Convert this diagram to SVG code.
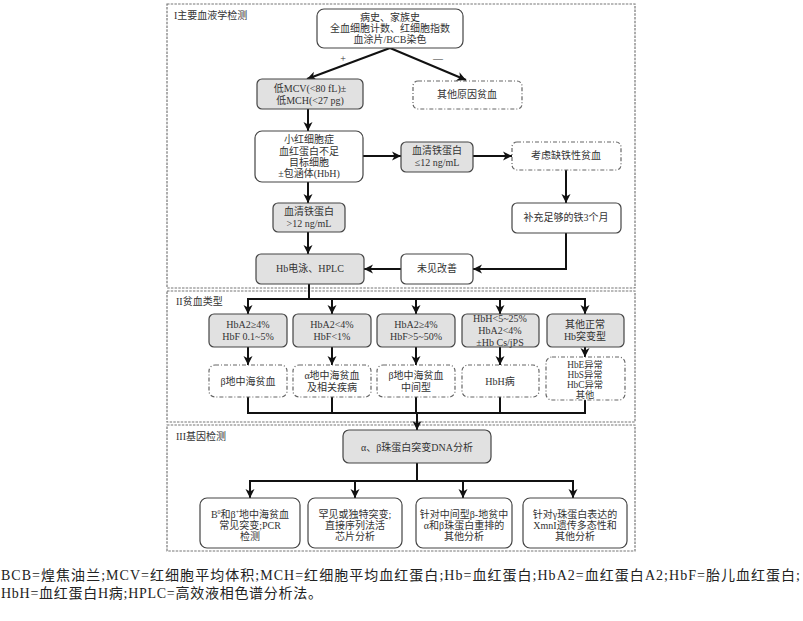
<svg xmlns="http://www.w3.org/2000/svg" width="803" height="621" viewBox="0 0 803 621">
<defs>
<marker id="ah" markerUnits="userSpaceOnUse" markerWidth="10" markerHeight="10" refX="9" refY="5" orient="auto">
<path d="M0,0.5 L9,5 L0,9.5 L2.5,5 z" fill="#111"/>
</marker>
<style>
.panel{fill:none;stroke:#777;stroke-width:1.2;stroke-dasharray:2.5 1.2}
.box{fill:#fff;stroke:#444;stroke-width:1.2}
.gray{fill:#e1e1e1;stroke:#444;stroke-width:1.2}
.dd{fill:#fff;stroke:#666;stroke-width:1.2;stroke-dasharray:4 2 1 2}
text{font-family:"Liberation Serif","Noto Sans CJK SC",serif;font-size:10px;fill:#333;text-anchor:middle}
.lab{text-anchor:start;font-size:10px}
.cap{text-anchor:start;font-size:14px;fill:#222}
.sm{font-size:9.3px}
.c{fill:none;stroke:#111;stroke-width:2}
.a{fill:none;stroke:#111;stroke-width:2;marker-end:url(#ah)}
</style>
</defs>
<rect width="803" height="621" fill="#fff"/>
<g id="panels">
<rect class="panel" x="167" y="4" width="468" height="284"/>
<rect class="panel" x="167" y="291" width="468" height="131"/>
<rect class="panel" x="167" y="425" width="468" height="126"/>
<text class="lab" x="174" y="19">I主要血液学检测</text>
<text class="lab" x="176" y="305">II贫血类型</text>
<text class="lab" x="176" y="440">III基因检测</text>
</g>
<g id="connectors">
<line class="a" x1="390" y1="48" x2="307" y2="79"/>
<line class="a" x1="390" y1="48" x2="466" y2="80"/>
<text x="343" y="62">+</text>
<text x="438" y="62">—</text>
<line class="a" x1="308" y1="109" x2="308" y2="131"/>
<line class="a" x1="363" y1="156" x2="401" y2="156"/>
<line class="a" x1="473" y1="156" x2="512" y2="156"/>
<line class="a" x1="566" y1="170" x2="566" y2="203"/>
<line class="a" x1="308" y1="182" x2="308" y2="203"/>
<line class="a" x1="308" y1="232" x2="308" y2="254"/>
<polyline class="a" points="566,233 566,269 473,269"/>
<line class="a" x1="401" y1="269" x2="364" y2="269"/>
<line class="c" x1="309" y1="284" x2="309" y2="299"/>
<line class="c" x1="247" y1="299" x2="585" y2="299"/>
<line class="a" x1="248" y1="298" x2="248" y2="314"/>
<line class="a" x1="332" y1="299" x2="332" y2="314"/>
<line class="a" x1="416" y1="299" x2="416" y2="314"/>
<line class="a" x1="500" y1="299" x2="500" y2="314"/>
<line class="a" x1="585" y1="298" x2="585" y2="314"/>
<line class="a" x1="248" y1="347" x2="248" y2="365"/>
<line class="a" x1="332" y1="347" x2="332" y2="365"/>
<line class="a" x1="416" y1="347" x2="416" y2="365"/>
<line class="a" x1="500" y1="347" x2="500" y2="365"/>
<line class="a" x1="585" y1="347" x2="585" y2="357"/>
<polyline class="c" points="248,397 248,413 585,413 585,400"/>
<line class="c" x1="332" y1="397" x2="332" y2="413"/>
<line class="c" x1="416" y1="397" x2="416" y2="413"/>
<line class="c" x1="500" y1="397" x2="500" y2="413"/>
<line class="a" x1="417" y1="413" x2="417" y2="430"/>
<line class="c" x1="417" y1="463" x2="417" y2="481"/>
<line class="c" x1="249" y1="481" x2="574" y2="481"/>
<line class="a" x1="250" y1="480" x2="250" y2="498"/>
<line class="a" x1="355" y1="481" x2="355" y2="498"/>
<line class="a" x1="463" y1="481" x2="463" y2="498"/>
<line class="a" x1="573" y1="480" x2="573" y2="498"/>
</g>
<g id="n-start">
<rect class="box" x="317" y="9" width="146" height="39" rx="7"/>
<text x="390" y="21">病史、家族史</text>
<text x="390" y="32">全血细胞计数、红细胞指数</text>
<text x="390" y="43">血涂片/BCB染色</text>
</g>
<g id="n-lowmcv">
<rect class="gray" x="257" y="79" width="106" height="30" rx="5"/>
<text x="310" y="92">低MCV(&lt;80 fL)±</text>
<text x="310" y="104">低MCH(&lt;27 pg)</text>
</g>
<g id="n-other">
<rect class="dd" x="413" y="81" width="109" height="28" rx="5"/>
<text x="467" y="98">其他原因贫血</text>
</g>
<g id="n-micro">
<rect class="box" x="255" y="131" width="108" height="51" rx="7"/>
<text x="309" y="143">小红细胞症</text>
<text x="309" y="155">血红蛋白不足</text>
<text x="309" y="166">目标细胞</text>
<text x="309" y="177">±包涵体(HbH)</text>
</g>
<g id="n-ferr-low">
<rect class="gray" x="401" y="142" width="72" height="30" rx="5"/>
<text x="437" y="154">血清铁蛋白</text>
<text x="437" y="166">≤12 ng/mL</text>
</g>
<g id="n-ida">
<rect class="dd" x="512" y="142" width="109" height="28" rx="5"/>
<text x="566" y="159">考虑缺铁性贫血</text>
</g>
<g id="n-ferr-high">
<rect class="gray" x="273" y="203" width="72" height="29" rx="5"/>
<text x="309" y="215">血清铁蛋白</text>
<text x="309" y="227">&gt;12 ng/mL</text>
</g>
<g id="n-iron">
<rect class="box" x="512" y="203" width="109" height="30" rx="5"/>
<text x="566" y="221">补充足够的铁3个月</text>
</g>
<g id="n-hplc">
<rect class="gray" x="256" y="254" width="108" height="30" rx="5"/>
<text x="310" y="272">Hb电泳、HPLC</text>
</g>
<g id="n-noimp">
<rect class="box" x="401" y="254" width="72" height="30" rx="5"/>
<text x="437" y="272">未见改善</text>
</g>
<g id="n-t1">
<rect class="gray" x="209" y="314" width="78" height="33" rx="5"/>
<text x="248" y="328">HbA2≥4%</text>
<text x="248" y="340">HbF 0.1~5%</text>
</g>
<g id="n-t2">
<rect class="gray" x="293" y="314" width="78" height="33" rx="5"/>
<text x="332" y="328">HbA2&lt;4%</text>
<text x="332" y="340">HbF&lt;1%</text>
</g>
<g id="n-t3">
<rect class="gray" x="377" y="314" width="78" height="33" rx="5"/>
<text x="416" y="328">HbA2≥4%</text>
<text x="416" y="340">HbF&gt;5~50%</text>
</g>
<g id="n-t4">
<rect class="gray" x="462" y="314" width="77" height="33" rx="5"/>
<text x="500" y="322">HbH&lt;5~25%</text>
<text x="500" y="334">HbA2&lt;4%</text>
<text x="500" y="346">±Hb Cs/jPS</text>
</g>
<g id="n-t5">
<rect class="gray" x="547" y="314" width="77" height="33" rx="5"/>
<text x="585" y="328">其他正常</text>
<text x="585" y="340">Hb突变型</text>
</g>
<g id="n-d1">
<rect class="dd" x="209" y="365" width="78" height="32" rx="6"/>
<text x="248" y="385">β地中海贫血</text>
</g>
<g id="n-d2">
<rect class="dd" x="293" y="365" width="78" height="32" rx="6"/>
<text x="332" y="379">α地中海贫血</text>
<text x="332" y="391">及相关疾病</text>
</g>
<g id="n-d3">
<rect class="dd" x="377" y="365" width="78" height="32" rx="6"/>
<text x="416" y="379">β地中海贫血</text>
<text x="416" y="391">中间型</text>
</g>
<g id="n-d4">
<rect class="dd" x="462" y="365" width="77" height="32" rx="6"/>
<text x="500" y="385">HbH病</text>
</g>
<g id="n-d5">
<rect class="dd" x="546" y="357" width="79" height="43" rx="6"/>
<text class="sm" x="585" y="368">HbE异常</text>
<text class="sm" x="585" y="378">HbS异常</text>
<text class="sm" x="585" y="388">HbC异常</text>
<text class="sm" x="585" y="398">其他</text>
</g>
<g id="n-dna">
<rect class="gray" x="343" y="430" width="148" height="33" rx="6"/>
<text x="417" y="451">α、β珠蛋白突变DNA分析</text>
</g>
<g id="n-g1">
<rect class="box" x="200" y="498" width="100" height="50" rx="7"/>
<text x="250" y="518">B<tspan dy="-4" font-size="6">0</tspan><tspan dy="4">和β</tspan><tspan dy="-4" font-size="6">+</tspan><tspan dy="4">地中海贫血</tspan></text>
<text x="250" y="529">常见突变;PCR</text>
<text x="250" y="540">检测</text>
</g>
<g id="n-g2">
<rect class="box" x="308" y="498" width="94" height="50" rx="7"/>
<text x="355" y="518">罕见或独特突变;</text>
<text x="355" y="529">直接序列法活</text>
<text x="355" y="540">芯片分析</text>
</g>
<g id="n-g3">
<rect class="box" x="416" y="498" width="96" height="50" rx="7"/>
<text x="464" y="518">针对中间型β-地贫中</text>
<text x="464" y="529">α和β珠蛋白重排的</text>
<text x="464" y="540">其他分析</text>
</g>
<g id="n-g4">
<rect class="box" x="523" y="498" width="104" height="50" rx="7"/>
<text x="575" y="518">针对γ珠蛋白表达的</text>
<text x="575" y="529">XmnI遗传多态性和</text>
<text x="575" y="540">其他分析</text>
</g>
<g id="caption">
<text class="cap" x="1" y="580" textLength="799" lengthAdjust="spacing">BCB=煌焦油兰;MCV=红细胞平均体积;MCH=红细胞平均血红蛋白;Hb=血红蛋白;HbA2=血红蛋白A2;HbF=胎儿血红蛋白;</text>
<text class="cap" x="1" y="598" textLength="321" lengthAdjust="spacing">HbH=血红蛋白H病;HPLC=高效液相色谱分析法。</text>
</g>
</svg>
